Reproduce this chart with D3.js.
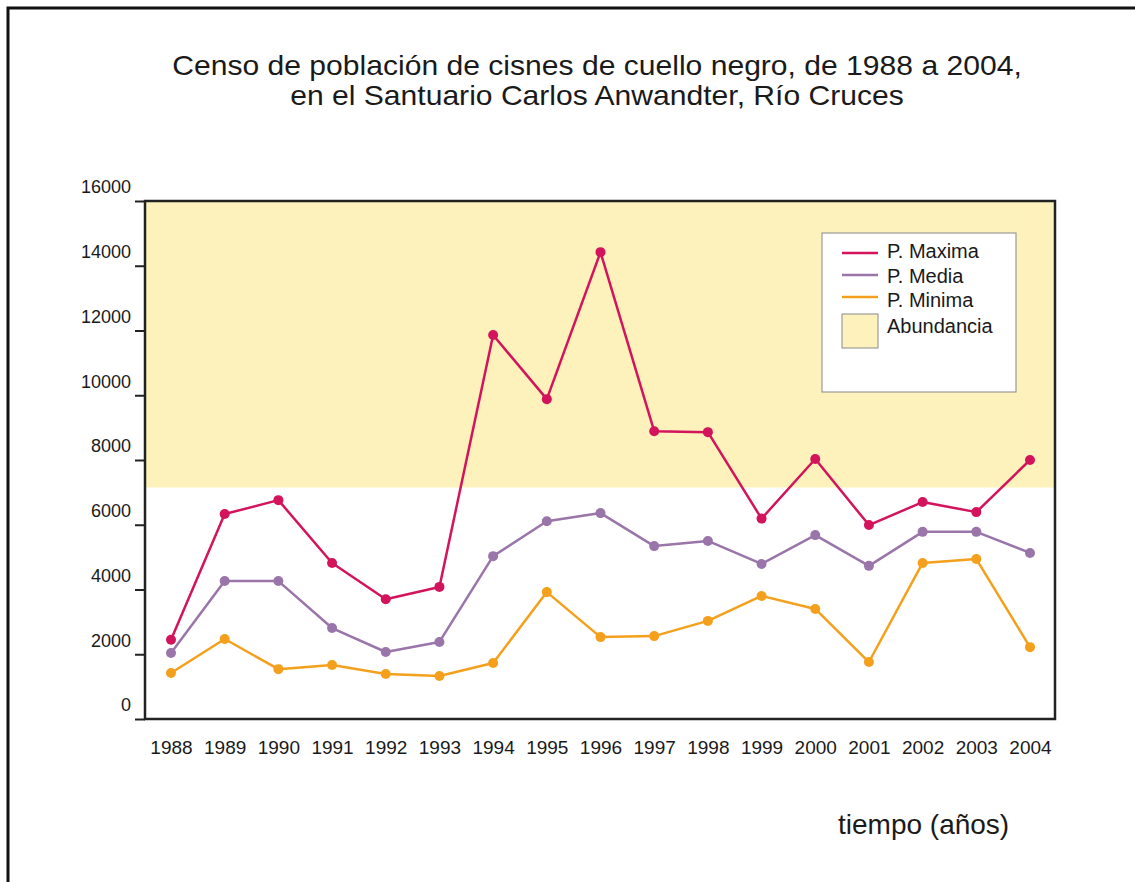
<!DOCTYPE html>
<html lang="es">
<head>
<meta charset="UTF-8" />
<title>Censo de cisnes de cuello negro</title>
<script src="https://d3js.org/d3.v7.min.js"></script>
<style>
  body { margin: 0; background: #fff; }
  svg { display: block; font-family: "Liberation Sans", Arial, sans-serif; }
</style>
</head>
<body>
<svg id="chart" width="1135" height="882"></svg>
<script>
const years = [1988, 1989, 1990, 1991, 1992, 1993, 1994, 1995, 1996, 1997, 1998, 1999, 2000, 2001, 2002, 2003, 2004];
const pMaxima = [2450, 6330, 6760, 4820, 3700, 4080, 11860, 9880, 14420, 8890, 8860, 6190, 8030, 5990, 6700, 6390, 8000];
const pMedia  = [2040, 4260, 4260, 2810, 2070, 2380, 5030, 6110, 6360, 5340, 5500, 4790, 5680, 4730, 5780, 5780, 5130];
const pMinima = [1420, 2470, 1540, 1670, 1390, 1330, 1730, 3920, 2530, 2560, 3030, 3800, 3400, 1760, 4820, 4940, 2220];
const yTicks = [0, 2000, 4000, 6000, 8000, 10000, 12000, 14000, 16000];
const abundancia = [7150, 16000];

const series = [
  { name: "P. Maxima", values: pMaxima, color: "#d3145c" },
  { name: "P. Media",  values: pMedia,  color: "#9a75aa" },
  { name: "P. Minima", values: pMinima, color: "#f4a01c" }
];

const svg = d3.select("#chart");
const plot = { left: 145, top: 201, right: 1055, bottom: 719 };

// outer frame (only top and left visible in the picture)
svg.append("rect")
  .attr("x", 8).attr("y", 8)
  .attr("width", 1200).attr("height", 1000)
  .attr("fill", "none").attr("stroke", "#111").attr("stroke-width", 3);

const x = d3.scaleLinear().domain([1988, 2004]).range([171, 1030]);
const y = d3.scaleLinear().domain([0, 16000]).range([plot.bottom, plot.top]);

// title (slightly wide lettering, like the original)
const title = svg.append("g")
  .attr("transform", "translate(597,0) scale(1.075,1)")
  .append("text")
  .attr("text-anchor", "middle")
  .attr("font-size", 28)
  .attr("fill", "#1a1a1a");
title.append("tspan").attr("x", 0).attr("y", 75)
  .text("Censo de población de cisnes de cuello negro, de 1988 a 2004,");
title.append("tspan").attr("x", 0).attr("y", 105)
  .text("en el Santuario Carlos Anwandter, Río Cruces");

// abundance band
svg.append("rect")
  .attr("x", plot.left).attr("y", y(abundancia[1]))
  .attr("width", plot.right - plot.left)
  .attr("height", y(abundancia[0]) - y(abundancia[1]))
  .attr("fill", "#fdf2bc");

// y axis
const yAxis = svg.append("g")
  .attr("transform", `translate(${plot.left},0)`)
  .call(d3.axisLeft(y).tickValues(yTicks).tickSize(10).tickPadding(4).tickFormat(d3.format("d")));
yAxis.select(".domain").remove();
yAxis.selectAll(".tick line").attr("stroke", "#222").attr("stroke-width", 2);
yAxis.selectAll(".tick text")
  .attr("font-size", 18).attr("fill", "#1a1a1a")
  .attr("font-family", "Liberation Sans, Arial, sans-serif")
  .attr("dy", "-0.45em");

// x axis labels
const xAxis = svg.append("g")
  .attr("transform", `translate(0,${plot.bottom})`)
  .call(d3.axisBottom(x).tickValues(years).tickSize(0).tickPadding(22).tickFormat(d3.format("d")));
xAxis.select(".domain").remove();
xAxis.selectAll(".tick text")
  .attr("font-size", 19).attr("fill", "#1a1a1a")
  .attr("font-family", "Liberation Sans, Arial, sans-serif");

// plot frame
svg.append("rect")
  .attr("x", plot.left).attr("y", plot.top)
  .attr("width", plot.right - plot.left).attr("height", plot.bottom - plot.top)
  .attr("fill", "none").attr("stroke", "#222").attr("stroke-width", 2.5);

// lines + points
const line = d3.line().x((d, i) => x(years[i])).y(d => y(d));
series.forEach(s => {
  svg.append("path")
    .datum(s.values)
    .attr("d", line)
    .attr("fill", "none")
    .attr("stroke", s.color)
    .attr("stroke-width", 2.5)
    .attr("stroke-linejoin", "round");
  svg.append("g").selectAll("circle")
    .data(s.values)
    .join("circle")
    .attr("cx", (d, i) => x(years[i]))
    .attr("cy", d => y(d))
    .attr("r", 5)
    .attr("fill", s.color);
});

// legend
const lg = svg.append("g").attr("transform", "translate(822,233)");
lg.append("rect")
  .attr("width", 194).attr("height", 159)
  .attr("fill", "#fff").attr("stroke", "#9a9a9a").attr("stroke-width", 1.2);
series.forEach((s, i) => {
  const cy = 20 + i * 22;
  lg.append("line")
    .attr("x1", 20).attr("x2", 56).attr("y1", cy).attr("y2", cy)
    .attr("stroke", s.color).attr("stroke-width", 2.5);
  lg.append("text")
    .attr("x", 65).attr("y", cy + 5 + i * 2.5)
    .attr("font-size", 20).attr("fill", "#1a1a1a")
    .text(s.name);
});
lg.append("rect")
  .attr("x", 20).attr("y", 81).attr("width", 36).attr("height", 34)
  .attr("fill", "#fdf2bc").attr("stroke", "#8a8a8a").attr("stroke-width", 1);
lg.append("text")
  .attr("x", 65).attr("y", 100)
  .attr("font-size", 20).attr("fill", "#1a1a1a")
  .text("Abundancia");

// x axis title
svg.append("text")
  .attr("x", 838).attr("y", 834)
  .attr("font-size", 28).attr("fill", "#1a1a1a")
  .text("tiempo (años)");
</script>
</body>
</html>
